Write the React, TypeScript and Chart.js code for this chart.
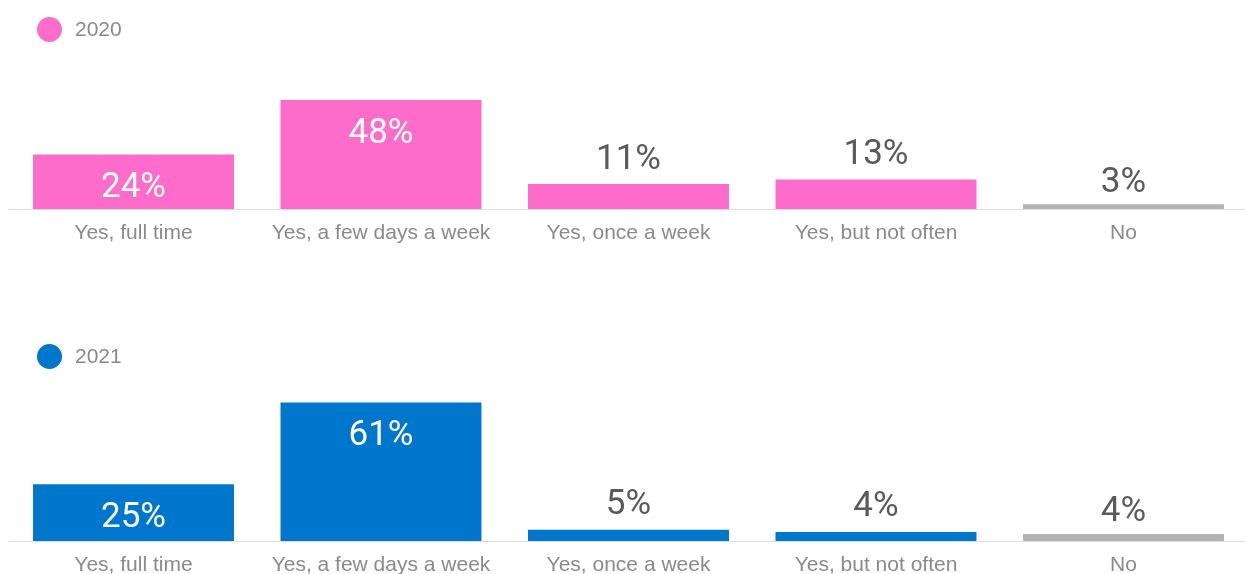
import React, { useEffect, useRef } from "react";
import { Chart, registerables } from "chart.js";

Chart.register(...registerables);

const categories = [
  "Yes, full time",
  "Yes, a few days a week",
  "Yes, once a week",
  "Yes, but not often",
  "No",
];
const values2020 = [24, 48, 11, 13, 3];
const values2021 = [25, 61, 5, 4, 4];
const yearLabels = ["2020", "2021"];

const PINK = "#FD6CCA";
const BLUE = "#0077CC";
const GREY = "#B3B3B3";
const AXIS_TEXT = "#8a8a8a";
const VALUE_TEXT = "#5a5a5a";
const SANS = "'Liberation Sans', Arial, Helvetica, sans-serif";

const valueLabelPlugin = {
  id: "valueLabels",
  afterDatasetsDraw(chart: any) {
    const ctx = chart.ctx;
    chart.data.datasets.forEach((ds: any, di: number) => {
      const meta = chart.getDatasetMeta(di);
      meta.data.forEach((el: any, i: number) => {
        const v = ds.data[i];
        const inside = v >= 20;
        const isNo = i === categories.length - 1;
        ctx.save();
        ctx.font = "400 35px Roboto";
        ctx.textAlign = "center";
        ctx.textBaseline = "alphabetic";
        ctx.fillStyle = inside ? "#ffffff" : VALUE_TEXT;
        const y = inside ? el.y + 43 : el.y - (isNo ? 10.5 : 15.5);
        ctx.fillText(v + "%", el.x, y);
        ctx.restore();
      });
    });
  },
};

function Panel({ top, label, color, values }: { top: number; label: string; color: string; values: number[] }) {
  const ref = useRef<HTMLCanvasElement | null>(null);
  useEffect(() => {
    if (!ref.current) return;
    const chart = new Chart(ref.current, {
      type: "bar",
      data: {
        labels: categories,
        datasets: [
          {
            label,
            data: values,
            backgroundColor: values.map((_, i) => (i === categories.length - 1 ? GREY : color)),
            borderColor: "#ffffff",
            borderWidth: (c: any) =>
              c.dataIndex === categories.length - 1 ? { top: 2, right: 0, bottom: 0, left: 0 } : 0,
            categoryPercentage: 1,
            barPercentage: 0.812,
          } as any,
        ],
      },
      options: {
        responsive: false,
        animation: false,
        layout: { padding: { left: 9.75, right: 2.75, top: 0, bottom: 2.8 } },
        plugins: { legend: { display: false }, tooltip: { enabled: false } },
        scales: {
          x: {
            grid: { display: false, drawTicks: false },
            border: { display: true, color: "#dedede", width: 1 },
            ticks: { color: AXIS_TEXT, font: { family: SANS, size: 21 }, padding: 11.5 },
          },
          y: { display: false, min: 0, max: 92 },
        },
      } as any,
      plugins: [valueLabelPlugin],
    });
    return () => chart.destroy();
  }, []);

  return (
    <div style={{ position: "absolute", left: 0, top, width: 1250, height: 260 }}>
      <canvas ref={ref} width={1250} height={260} style={{ display: "block", width: 1250, height: 260 }} />
    </div>
  );
}

function Legend({ top, color, text }: { top: number; color: string; text: string }) {
  return (
    <div style={{ position: "absolute", left: 0, top, height: 30, width: 200 }}>
      <div
        style={{
          position: "absolute",
          left: 36.5,
          top: 0,
          width: 25,
          height: 25,
          borderRadius: "50%",
          background: color,
        }}
      />
      <div
        style={{
          position: "absolute",
          left: 75,
          top: 1.8,
          fontFamily: SANS,
          fontSize: 21,
          lineHeight: "21px",
          color: AXIS_TEXT,
        }}
      >
        {text}
      </div>
    </div>
  );
}

export default function App() {
  return (
    <div
      style={{
        position: "fixed",
        left: 0,
        top: 0,
        width: 1245,
        height: 574,
        overflow: "hidden",
        background: "#ffffff",
      }}
    >
      <Panel top={0} label={yearLabels[0]} color={PINK} values={values2020} />
      <Panel top={332} label={yearLabels[1]} color={BLUE} values={values2021} />
      <Legend top={16.5} color={PINK} text={yearLabels[0]} />
      <Legend top={343.5} color={BLUE} text={yearLabels[1]} />
    </div>
  );
}
